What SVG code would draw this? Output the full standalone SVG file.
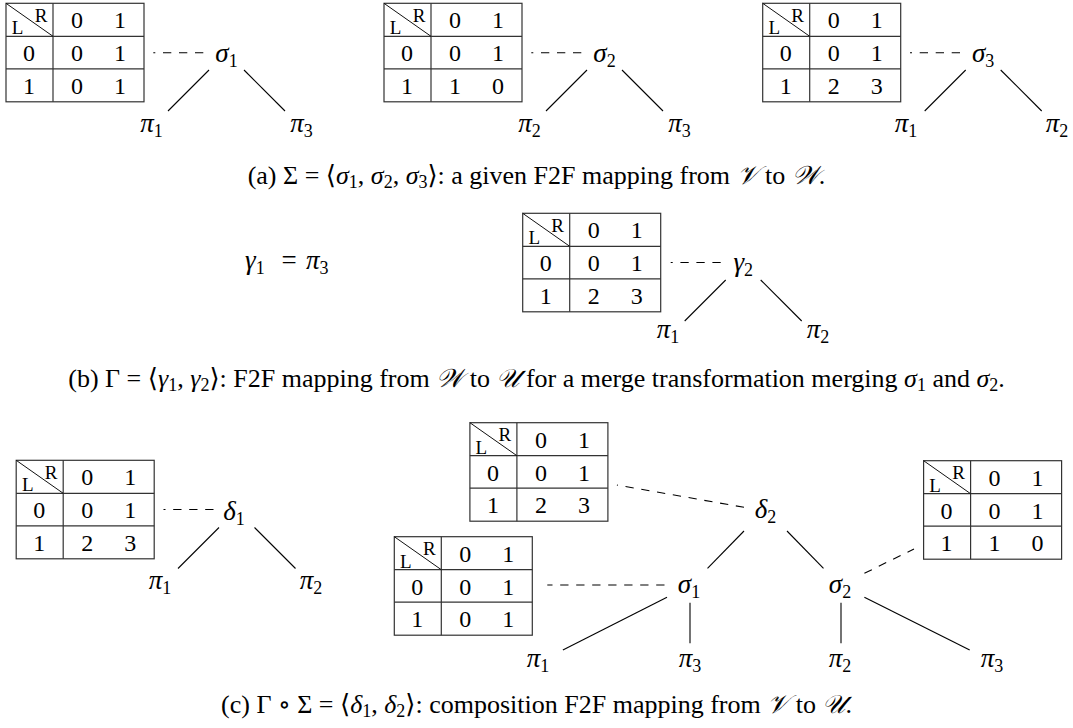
<svg xmlns="http://www.w3.org/2000/svg" xmlns:xlink="http://www.w3.org/1999/xlink" width="1073" height="728" viewBox="0 0 1073 728">
<style>
.bg{fill:#fff}
.grid rect,.grid line{fill:none;stroke:#333;stroke-width:1.2}
.grid .diag{stroke:#111;stroke-width:1}
.d{font-family:"Liberation Serif","DejaVu Serif",serif;font-size:24px;text-anchor:middle;fill:#000}
.lr{font-family:"Liberation Serif","DejaVu Serif",serif;font-size:19px;text-anchor:middle;fill:#000}
.g{font-family:"Liberation Serif","DejaVu Serif",serif;font-size:27px;font-style:italic;text-anchor:middle;fill:#000}
.gs{font-family:"Liberation Serif","DejaVu Serif",serif;font-size:27px;font-style:italic;fill:#000}
.sb{font-style:normal;font-size:18px}
.up{font-style:normal}
.cap{font-family:"Liberation Serif","DejaVu Serif",serif;font-size:26px;text-anchor:middle;fill:#000}
.i{font-style:italic}
.cs{font-size:18px}
.edge{stroke:#000;stroke-width:1.1;fill:none}
.dash{stroke:#000;stroke-width:1.1;fill:none;stroke-dasharray:8.3 7.7}
</style>
<defs>
<g id="grid" class="grid">
<rect x="0" y="0" width="138" height="98.5"/>
<line x1="47" y1="0" x2="47" y2="98.5"/>
<line x1="0" y1="33" x2="138" y2="33"/>
<line x1="0" y1="65.5" x2="138" y2="65.5"/>
<line class="diag" x1="0" y1="0" x2="47" y2="33"/>
<text class="lr" x="35" y="18.5">R</text>
<text class="lr" x="11.5" y="31">L</text>
<text class="d" x="71" y="25">0</text>
<text class="d" x="114" y="25">1</text>
<text class="d" x="23" y="58">0</text>
<text class="d" x="23" y="90.5">1</text>
</g>
</defs>
<rect class="bg" x="0" y="0" width="1073" height="728"/>

<g id="connectors">
<line class="dash" x1="203.3" y1="52.8" x2="153.3" y2="52.8"/>
<line class="edge" x1="209" y1="70" x2="168" y2="111"/>
<line class="edge" x1="244" y1="70" x2="285" y2="111"/>
<line class="dash" x1="581.3" y1="52.8" x2="531.3" y2="52.8"/>
<line class="edge" x1="587" y1="70" x2="546" y2="111"/>
<line class="edge" x1="622" y1="70" x2="663" y2="111"/>
<line class="dash" x1="960" y1="52.8" x2="910" y2="52.8"/>
<line class="edge" x1="965.7" y1="70" x2="924.7" y2="111"/>
<line class="edge" x1="1000.7" y1="70" x2="1041.7" y2="111"/>
<line class="dash" x1="720.7" y1="262.5" x2="670.7" y2="262.5"/>
<line class="edge" x1="725.7" y1="280" x2="684.7" y2="321"/>
<line class="edge" x1="760.7" y1="280" x2="801.7" y2="321"/>
<line class="dash" x1="213.5" y1="509.5" x2="163.5" y2="509.5"/>
<line class="edge" x1="219" y1="527.5" x2="178" y2="568.5"/>
<line class="edge" x1="254.5" y1="527.5" x2="295.5" y2="568.5"/>
<line class="dash" x1="744" y1="507.3" x2="616.9" y2="485"/>
<line class="dash" x1="664.5" y1="585" x2="547.3" y2="585"/>
<line class="dash" x1="864.4" y1="573.3" x2="914" y2="549"/>
<line class="edge" x1="744" y1="531" x2="707.5" y2="568.3"/>
<line class="edge" x1="787" y1="531" x2="823.5" y2="568.3"/>
<line class="edge" x1="667" y1="597.3" x2="562.9" y2="650"/>
<line class="edge" x1="690" y1="602.7" x2="690" y2="643.3"/>
<line class="edge" x1="841" y1="602.7" x2="841" y2="643.3"/>
<line class="edge" x1="864.4" y1="597.3" x2="969.7" y2="650"/>
</g>

<g id="table-sigma1" transform="translate(6,3.3)"><use xlink:href="#grid"/>
<text class="d" x="71" y="58">0</text><text class="d" x="114" y="58">1</text>
<text class="d" x="71" y="90.5">0</text><text class="d" x="114" y="90.5">1</text></g>
<g id="table-sigma2" transform="translate(384,3.3)"><use xlink:href="#grid"/>
<text class="d" x="71" y="58">0</text><text class="d" x="114" y="58">1</text>
<text class="d" x="71" y="90.5">1</text><text class="d" x="114" y="90.5">0</text></g>
<g id="table-sigma3" transform="translate(762.7,3.3)"><use xlink:href="#grid"/>
<text class="d" x="71" y="58">0</text><text class="d" x="114" y="58">1</text>
<text class="d" x="71" y="90.5">2</text><text class="d" x="114" y="90.5">3</text></g>

<g id="a-sigma1"><text class="g" x="226.5" y="61.5">σ<tspan class="sb" dy="5">1</tspan></text></g>
<g id="a-pi1"><text class="g" x="151.5" y="131.7">π<tspan class="sb" dy="5">1</tspan></text></g>
<g id="a-pi3"><text class="g" x="301.5" y="131.7">π<tspan class="sb" dy="5">3</tspan></text></g>
<g id="a-sigma2"><text class="g" x="604.5" y="61.5">σ<tspan class="sb" dy="5">2</tspan></text></g>
<g id="a-pi2b"><text class="g" x="529.5" y="131.7">π<tspan class="sb" dy="5">2</tspan></text></g>
<g id="a-pi3b"><text class="g" x="679.5" y="131.7">π<tspan class="sb" dy="5">3</tspan></text></g>
<g id="a-sigma3"><text class="g" x="983.2" y="61.5">σ<tspan class="sb" dy="5">3</tspan></text></g>
<g id="a-pi1c"><text class="g" x="906" y="131.7">π<tspan class="sb" dy="5">1</tspan></text></g>
<g id="a-pi2c"><text class="g" x="1057" y="131.7">π<tspan class="sb" dy="5">2</tspan></text></g>

<g id="caption-a"><text class="cap" x="536.5" y="184">(a) Σ = ⟨<tspan class="i">σ</tspan><tspan class="cs" dy="4">1</tspan><tspan dy="-4">, </tspan><tspan class="i">σ</tspan><tspan class="cs" dy="4">2</tspan><tspan dy="-4">, </tspan><tspan class="i">σ</tspan><tspan class="cs" dy="4">3</tspan><tspan dy="-4">⟩: a given F2F mapping from </tspan><tspan class="i">𝒱</tspan> to <tspan class="i">𝒲</tspan>.</text></g>

<g id="b-gamma1"><text class="gs" y="269"><tspan x="245">γ</tspan><tspan class="sb" dy="5">1</tspan><tspan class="up" x="281.5" dy="-5">=</tspan><tspan x="306">π</tspan><tspan class="sb" dy="5">3</tspan></text></g>
<g id="table-gamma2" transform="translate(522.7,213.3)"><use xlink:href="#grid"/>
<text class="d" x="71" y="58">0</text><text class="d" x="114" y="58">1</text>
<text class="d" x="71" y="90.5">2</text><text class="d" x="114" y="90.5">3</text></g>
<g id="b-gamma2"><text class="g" x="743.2" y="271">γ<tspan class="sb" dy="5">2</tspan></text></g>
<g id="b-pi1"><text class="g" x="668" y="337.5">π<tspan class="sb" dy="5">1</tspan></text></g>
<g id="b-pi2"><text class="g" x="818" y="337.5">π<tspan class="sb" dy="5">2</tspan></text></g>

<g id="caption-b"><text class="cap" x="536.5" y="387">(b) Γ = ⟨<tspan class="i">γ</tspan><tspan class="cs" dy="4">1</tspan><tspan dy="-4">, </tspan><tspan class="i">γ</tspan><tspan class="cs" dy="4">2</tspan><tspan dy="-4">⟩: F2F mapping from </tspan><tspan class="i">𝒲</tspan> to <tspan class="i">𝒰</tspan> for a merge transformation merging <tspan class="i">σ</tspan><tspan class="cs" dy="4">1</tspan><tspan dy="-4"> and </tspan><tspan class="i">σ</tspan><tspan class="cs" dy="4">2</tspan><tspan dy="-4">.</tspan></text></g>

<g id="table-delta1" transform="translate(16.2,460.3)"><use xlink:href="#grid"/>
<text class="d" x="71" y="58">0</text><text class="d" x="114" y="58">1</text>
<text class="d" x="71" y="90.5">2</text><text class="d" x="114" y="90.5">3</text></g>
<g id="c-delta1"><text class="g" x="234" y="519.5">δ<tspan class="sb" dy="5">1</tspan></text></g>
<g id="c-pi1a"><text class="g" x="160" y="589">π<tspan class="sb" dy="5">1</tspan></text></g>
<g id="c-pi2a"><text class="g" x="311" y="589">π<tspan class="sb" dy="5">2</tspan></text></g>

<g id="table-delta2" transform="translate(469.9,422.7)"><use xlink:href="#grid"/>
<text class="d" x="71" y="58">0</text><text class="d" x="114" y="58">1</text>
<text class="d" x="71" y="90.5">2</text><text class="d" x="114" y="90.5">3</text></g>
<g id="table-c-sigma1" transform="translate(394.3,536.7)"><use xlink:href="#grid"/>
<text class="d" x="71" y="58">0</text><text class="d" x="114" y="58">1</text>
<text class="d" x="71" y="90.5">0</text><text class="d" x="114" y="90.5">1</text></g>
<g id="table-c-sigma2" transform="translate(923.6,460.7)"><use xlink:href="#grid"/>
<text class="d" x="71" y="58">0</text><text class="d" x="114" y="58">1</text>
<text class="d" x="71" y="90.5">1</text><text class="d" x="114" y="90.5">0</text></g>

<g id="c-delta2"><text class="g" x="765.5" y="518">δ<tspan class="sb" dy="5">2</tspan></text></g>
<g id="c-sigma1"><text class="g" x="689" y="593">σ<tspan class="sb" dy="5">1</tspan></text></g>
<g id="c-sigma2"><text class="g" x="840" y="593">σ<tspan class="sb" dy="5">2</tspan></text></g>
<g id="c-pi1b"><text class="g" x="538" y="667">π<tspan class="sb" dy="5">1</tspan></text></g>
<g id="c-pi3b"><text class="g" x="690" y="667">π<tspan class="sb" dy="5">3</tspan></text></g>
<g id="c-pi2b"><text class="g" x="840" y="667">π<tspan class="sb" dy="5">2</tspan></text></g>
<g id="c-pi3c"><text class="g" x="992" y="667">π<tspan class="sb" dy="5">3</tspan></text></g>

<g id="caption-c"><text class="cap" x="536.5" y="713">(c) Γ ∘ Σ = ⟨<tspan class="i">δ</tspan><tspan class="cs" dy="4">1</tspan><tspan dy="-4">, </tspan><tspan class="i">δ</tspan><tspan class="cs" dy="4">2</tspan><tspan dy="-4">⟩: composition F2F mapping from </tspan><tspan class="i">𝒱</tspan> to <tspan class="i">𝒰</tspan>.</text></g>
</svg>
